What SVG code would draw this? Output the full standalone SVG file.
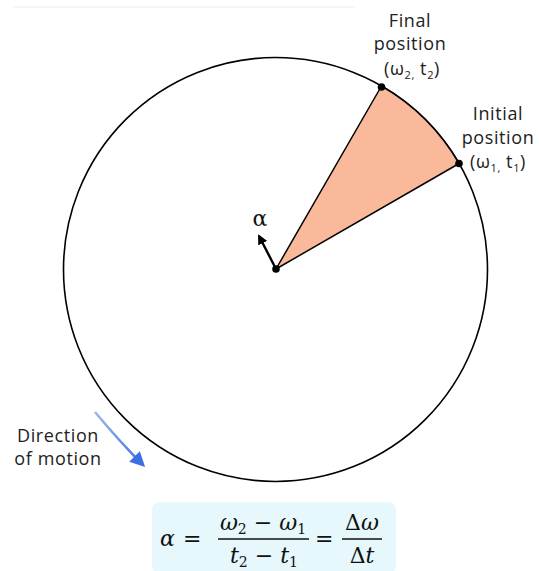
<svg xmlns="http://www.w3.org/2000/svg" width="539" height="571" viewBox="0 0 539 571">
<style>
.lbl{font-family:"Open Sans","DejaVu Sans",sans-serif;font-size:18px;fill:#222;text-anchor:middle;letter-spacing:0.6px}
.sub{font-size:11px}
.math{font-family:"DejaVu Serif","Liberation Serif",serif;font-size:22px;fill:#111}
.it{font-style:italic}
.edge{stroke:#000;stroke-width:1.6;fill:none}
</style>
<defs>
<marker id="ah" viewBox="0 0 10 10" refX="8" refY="5" markerWidth="10" markerHeight="10" orient="auto" markerUnits="userSpaceOnUse">
<path d="M0,0 L10,5 L0,10 Z" fill="#000"/>
</marker>
<marker id="ahb" viewBox="0 0 10 10" refX="8" refY="5" markerWidth="17" markerHeight="15" orient="auto" markerUnits="userSpaceOnUse">
<path d="M0,0 L10,5 L0,10 Z" fill="#3a6fe6"/>
</marker>
<linearGradient id="bg" x1="95" y1="412" x2="143" y2="465" gradientUnits="userSpaceOnUse">
<stop offset="0" stop-color="#9fb8ec"/>
<stop offset="1" stop-color="#3a6fe6"/>
</linearGradient>
</defs>
<rect width="539" height="571" fill="#fff"/>
<line x1="13" y1="7" x2="355" y2="7" stroke="#ececec" stroke-width="1"/>
<g id="circle">
<circle cx="275.5" cy="269.5" r="212" class="edge"/>
</g>
<g id="sector">
<path d="M276,269 L381.5,86 A212,212 0 0 1 459.1,163.5 Z" fill="#f9b99a" stroke="#000" stroke-width="1.5" stroke-linejoin="round"/>
</g>
<g id="connectors">
<line x1="276" y1="269" x2="259" y2="236" stroke="#000" stroke-width="2.4" marker-end="url(#ah)"/>
<path d="M95,412 Q120,442 143,465" stroke="url(#bg)" stroke-width="2.5" fill="none" marker-end="url(#ahb)"/>
</g>
<g id="center">
<circle cx="276" cy="269" r="3.8" fill="#000"/>
<text x="260" y="226" font-family="DejaVu Serif,Liberation Serif,serif" font-size="22" fill="#111" text-anchor="middle">α</text>
</g>
<g id="final">
<circle cx="381.5" cy="87" r="3.8" fill="#000"/>
<text class="lbl" x="410" y="27">Final</text>
<text class="lbl" x="410" y="50">position</text>
<text class="lbl" x="412" y="75">(ω<tspan class="sub" dy="4">2,</tspan><tspan dy="-4"> t</tspan><tspan class="sub" dy="4">2</tspan><tspan dy="-4">)</tspan></text>
</g>
<g id="initial">
<circle cx="459" cy="163.5" r="3.8" fill="#000"/>
<text class="lbl" x="498" y="120">Initial</text>
<text class="lbl" x="498" y="144">position</text>
<text class="lbl" x="498" y="168">(ω<tspan class="sub" dy="4">1,</tspan><tspan dy="-4"> t</tspan><tspan class="sub" dy="4">1</tspan><tspan dy="-4">)</tspan></text>
</g>
<g id="direction">
<text class="lbl" x="58" y="442">Direction</text>
<text class="lbl" x="58" y="465">of motion</text>
</g>
<g id="formula">
<rect x="152" y="502" width="244" height="72" rx="8" fill="#e6f8fc"/>
<text class="math it" x="160" y="546">α</text>
<text class="math" x="183" y="546">=</text>
<text class="math" x="263" y="530" text-anchor="middle"><tspan class="it">ω</tspan><tspan font-size="14" dy="4">2</tspan><tspan dy="-4"> − </tspan><tspan class="it">ω</tspan><tspan font-size="14" dy="4">1</tspan></text>
<line x1="218" y1="539" x2="309" y2="539" stroke="#111" stroke-width="1.3"/>
<text class="math" x="264" y="563" text-anchor="middle"><tspan class="it">t</tspan><tspan font-size="14" dy="4">2</tspan><tspan dy="-4"> − </tspan><tspan class="it">t</tspan><tspan font-size="14" dy="4">1</tspan></text>
<text class="math" x="315" y="546">=</text>
<text class="math" x="362" y="530" text-anchor="middle">Δ<tspan class="it">ω</tspan></text>
<line x1="342" y1="539" x2="382" y2="539" stroke="#111" stroke-width="1.3"/>
<text class="math" x="362" y="563" text-anchor="middle">Δ<tspan class="it">t</tspan></text>
</g>
</svg>
